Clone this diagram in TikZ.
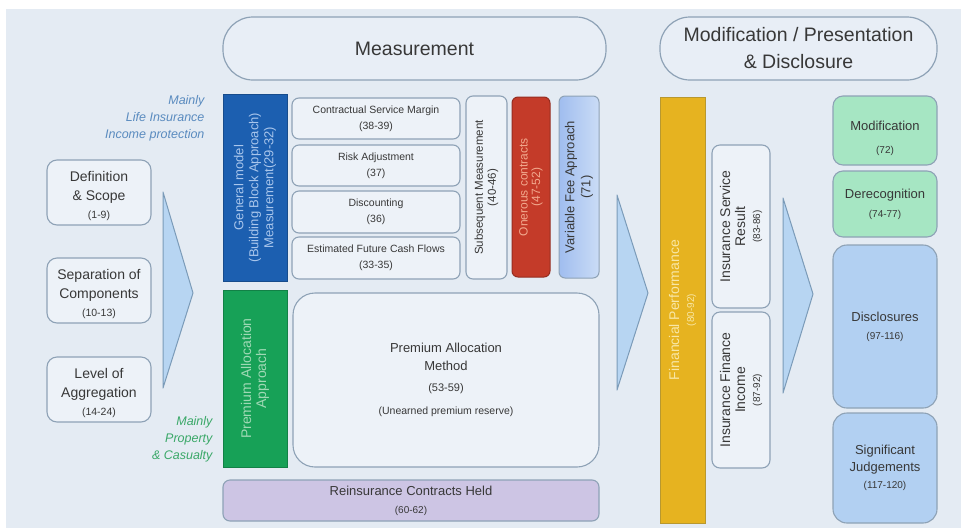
\documentclass[tikz,border=0pt]{standalone}
\usepackage{fontspec}
\setmainfont{Liberation Sans}
\newcommand\fsz[2]{\fontsize{#1}{#2}\selectfont}
\definecolor{bgc}{HTML}{E4EBF3}
\definecolor{bordc}{HTML}{8EA2B6}
\definecolor{boxfill}{HTML}{EDF2F8}
\definecolor{hdrfill}{HTML}{E8EEF6}
\definecolor{txt}{HTML}{383838}
\definecolor{gmblue}{HTML}{1C5FB0}
\definecolor{gmedge}{HTML}{174C8C}
\definecolor{gmtxt}{HTML}{A9C6EC}
\definecolor{paagreen}{HTML}{17A157}
\definecolor{paatxt}{HTML}{9FD9B5}
\definecolor{onred}{HTML}{C43B29}
\definecolor{onedge}{HTML}{962D20}
\definecolor{ontxt}{HTML}{F2A98E}
\definecolor{vfatop}{HTML}{CADCF6}
\definecolor{vfabot}{HTML}{A0BDEF}
\definecolor{fpgold}{HTML}{E6B320}
\definecolor{fpedge}{HTML}{B8982F}
\definecolor{fptxt}{HTML}{F8E7A6}
\definecolor{mint}{HTML}{A6E6C3}
\definecolor{skyb}{HTML}{B2D0F2}
\definecolor{lav}{HTML}{CDC5E4}
\definecolor{arrfill}{HTML}{B7D5F2}
\definecolor{arredge}{HTML}{7B9BB8}
\definecolor{lifec}{HTML}{5A8BBF}
\definecolor{propc}{HTML}{3AA868}
\begin{document}
\begin{tikzpicture}[x=1pt,y=-1pt,
  base/.style={align=center, inner sep=0pt, outer sep=0pt, text=txt, line width=1.1pt},
  plainbox/.style={base, draw=bordc, fill=boxfill, rounded corners=7pt},
  header/.style={base, draw=bordc, fill=hdrfill, rounded corners=30pt, line width=1.2pt},
  solidbox/.style={base, line width=1pt},
  wh/.style 2 args={minimum width=#1, minimum height=#2},
  chevron/.style={fill=arrfill, draw=arredge, line width=1pt, line join=round},
  sidenote/.style={anchor=east, align=right, font=\itshape\fsz{12.5}{17}},
  scopebox/.style={plainbox, rounded corners=10pt, wh={104}{65}},
  scopetext/.style={base, font=\fsz{14}{18.5}}
]
\useasboundingbox (0,0) rectangle (961,528);
\fill[white] (0,0) rectangle (961,528);
\fill[bgc] (6,9) rectangle (961,528);

% section headers
\node[header, wh={383}{63}, font=\fsz{19.5}{24}] (meas) at (414.5,48.5) {Measurement};
\node[header, wh={277}{63}, font=\fsz{19.5}{27}] (mpd) at (798.5,48.5) {Modification / Presentation\\\& Disclosure};

% side notes
\node[sidenote, text=lifec] (life) at (208,118) {Mainly\\Life Insurance\\Income protection};
\node[sidenote, text=propc] (prop) at (216,439) {Mainly\\Property\\\& Casualty};

% scope boxes (text set slightly below the box centre)
\node[scopebox] (def) at (99,192.5) {};
\node[scopetext] (deftxt) at (99,196.5) {Definition\\\& Scope\\{\fsz{10.5}{13}(1-9)}};
\node[scopebox] (sep) at (99,290.5) {};
\node[scopetext] (septxt) at (99,294.5) {Separation of\\Components\\{\fsz{10.5}{13}(10-13)}};
\node[scopebox] (lev) at (99,389.5) {};
\node[scopetext] (levtxt) at (99,393.5) {Level of\\Aggregation\\{\fsz{10.5}{13}(14-24)}};

% chevrons
\path[chevron] (163,192) -- (193,293) -- (163,388) -- cycle;
\path[chevron] (617,195) -- (648,293) -- (617,390) -- cycle;
\path[chevron] (783,198) -- (813,294) -- (783,393) -- cycle;

% general model
\node[solidbox, fill=gmblue, draw=gmedge, rotate=90, wh={187}{64}, text=gmtxt, font=\fsz{13}{15}] (gm) at (255,187.5) {General model\\(Building Block Approach)\\Measurement(29-32)};
\node[plainbox, wh={168}{41}, font=\fsz{10.5}{16}] (csm) at (376,118.5) {Contractual Service Margin\\(38-39)};
\node[plainbox, wh={168}{41}, font=\fsz{10.5}{16}] (ra) at (376,165.5) {Risk Adjustment\\(37)};
\node[plainbox, wh={168}{42}, font=\fsz{10.5}{16}] (disc) at (376,212) {Discounting\\(36)};
\node[plainbox, wh={168}{42}, font=\fsz{10.5}{16}] (efcf) at (376,258) {Estimated Future Cash Flows\\(33-35)};
\node[plainbox, rotate=90, wh={183}{41}, font=\fsz{11.5}{13}] (subm) at (486.5,187.5) {Subsequent Measurement\\(40-46)};
\node[solidbox, fill=onred, draw=onedge, rounded corners=6pt, rotate=90, wh={180}{38}, text=ontxt, font=\fsz{12}{12.5}] (oner) at (531,187) {Onerous contracts\\(47-52)};
\node[solidbox, draw=bordc, left color=vfabot, right color=vfatop, rounded corners=6pt, rotate=90, wh={182}{40}, font=\fsz{13}{16}] (vfa) at (579,187) {Variable Fee Approach\\(71)};

% premium allocation
\node[solidbox, fill=paagreen, draw=paagreen!80!black, rotate=90, wh={177}{64}, text=paatxt, font=\fsz{14}{15}] (paa) at (255,378.5) {Premium Allocation\\Approach};
\node[plainbox, rounded corners=22pt, wh={306}{174}, font=\fsz{13}{18}] (pam) at (446,380) {Premium Allocation\\Method\\[3pt]{\fsz{11}{13}(53-59)}\\[5pt]{\fsz{10.5}{13}(Unearned premium reserve)}};

% reinsurance
\node[plainbox, fill=lav, wh={376}{41}, font=\fsz{13}{18}] (rch) at (411,500.5) {Reinsurance Contracts Held\\{\fsz{10}{12}(60-62)}};

% financial performance
\node[solidbox, fill=fpgold, draw=fpedge, rotate=90, wh={426}{45}, text=fptxt, font=\fsz{14}{15}] (fp) at (682.5,310) {Financial Performance\\{\fsz{10}{12}(80-92)}};
\node[plainbox, rounded corners=8pt, rotate=90, wh={163}{58}, font=\fsz{14}{15}] (isr) at (741,226.5) {Insurance Service\\Result\\{\fsz{10}{12}(83-86)}};
\node[plainbox, rounded corners=8pt, rotate=90, wh={156}{58}, font=\fsz{14}{15}] (ifi) at (741,390) {Insurance Finance\\Income\\{\fsz{10}{12}(87-92)}};

% modification / presentation / disclosure
\node[plainbox, fill=mint, rounded corners=10pt, wh={104}{69}] (modif) at (885,130.5) {};
\node[base, font=\fsz{13}{23}] (modiftxt) at (885,138) {Modification\\{\fsz{10}{12}(72)}};
\node[plainbox, fill=mint, rounded corners=10pt, wh={104}{66}, font=\fsz{13}{19}] (derec) at (885,204) {Derecognition\\{\fsz{10}{12}(74-77)}};
\node[plainbox, fill=skyb, rounded corners=14pt, wh={104}{163}, font=\fsz{13}{18}] (discl) at (885,326.5) {Disclosures\\{\fsz{10}{12}(97-116)}};
\node[plainbox, fill=skyb, rounded corners=14pt, wh={104}{110}, font=\fsz{13}{17}] (sigj) at (885,468) {Significant\\Judgements\\{\fsz{10}{12}(117-120)}};
\end{tikzpicture}
\end{document}
